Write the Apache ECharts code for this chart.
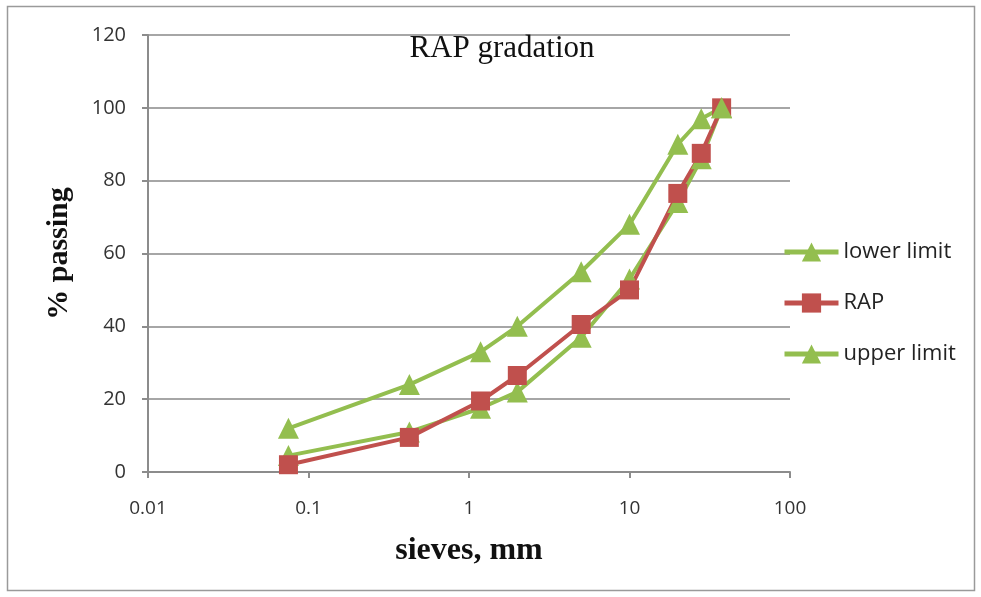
<!DOCTYPE html>
<html>
<head>
<meta charset="utf-8">
<script src="https://cdn.jsdelivr.net/npm/echarts@6/dist/echarts.min.js"></script>
<style>
  html, body { margin: 0; padding: 0; background: #fff; }
  #chart { width: 981px; height: 597px; }
</style>
</head>
<body>
<div id="chart"></div>
<script>
// Sieve sizes (mm) and percent passing for each curve
const sieves = [0.075, 0.425, 1.18, 2, 5, 10, 20, 28, 37.5];
const lowerLimit = [4.5, 11, 17.5, 22, 37, 53, 74, 86, 100];
const rapPassing = [2, 9.5, 19.5, 26.5, 40.5, 50, 76.5, 87.5, 100];
const upperLimit = [12, 24, 33, 40, 55, 68, 90, 97, 100];
const xTicks = ['0.01', '0.1', '1', '10', '100'];
const yTicks = [0, 20, 40, 60, 80, 100, 120];

const GREEN = '#93BE4F';
const RED = '#C0504D';
const AXIS_GRAY = '#8c8c8c';

const pairs = vals => sieves.map((s, i) => [s, vals[i]]);

const chart = echarts.init(document.getElementById('chart'), null, { renderer: 'canvas' });

const lineSeries = (name, vals, color, symbol) => ({
  name,
  type: 'line',
  data: pairs(vals),
  symbol,
  symbolSize: symbol === 'rect' ? 19 : 21,
  lineStyle: { color, width: 4 },
  itemStyle: { color },
  emphasis: { disabled: true },
  animation: false
});

chart.setOption({
  animation: false,
  title: {
    text: 'RAP gradation',
    left: 497,
    top: 28,
    textAlign: 'center',
    textStyle: { fontFamily: 'Liberation Serif', fontSize: 31, fontWeight: 'normal', color: '#111' }
  },
  graphic: [{
    type: 'rect',
    shape: { x: 7.5, y: 6.5, width: 967, height: 584 },
    style: { fill: 'none', stroke: '#9a9a9a', lineWidth: 1.5 },
    silent: true,
    z: -1
  }],
  legend: {
    orient: 'vertical',
    left: 782,
    top: 241,
    padding: 0,
    itemWidth: 54,
    itemHeight: 24,
    itemGap: 29,
    data: ['lower limit', 'RAP', 'upper limit'],
    lineStyle: { width: 5 },
    textStyle: { fontFamily: 'Open Sans', fontSize: 22, color: '#222' }
  },
  grid: { left: 148, right: 191, top: 35, bottom: 125 },
  xAxis: {
    type: 'log',
    logBase: 10,
    min: 0.01,
    max: 100,
    name: 'sieves, mm',
    nameLocation: 'middle',
    nameGap: 63,
    nameTextStyle: { fontFamily: 'Liberation Serif', fontSize: 32, fontWeight: 'bold', color: '#111' },
    axisLine: { lineStyle: { color: AXIS_GRAY, width: 2 } },
    axisTick: { show: true, inside: false, length: 6, lineStyle: { color: AXIS_GRAY, width: 2 } },
    axisLabel: {
      fontFamily: 'Open Sans', fontSize: 19, color: '#333', margin: 27,
      formatter: v => {
        const e = Math.round(Math.log10(v));
        return xTicks[e + 2] !== undefined ? xTicks[e + 2] : '';
      }
    },
    splitLine: { show: false },
    minorTick: { show: false }
  },
  yAxis: {
    type: 'value',
    min: yTicks[0],
    max: yTicks[yTicks.length - 1],
    interval: 20,
    name: '% passing',
    nameLocation: 'middle',
    nameGap: 74,
    nameRotate: 90,
    nameTextStyle: { fontFamily: 'Liberation Serif', fontSize: 30, fontWeight: 'bold', color: '#111' },
    axisLine: { show: true, lineStyle: { color: AXIS_GRAY, width: 2 } },
    axisTick: { show: true, inside: false, length: 6, lineStyle: { color: AXIS_GRAY, width: 2 } },
    axisLabel: { fontFamily: 'Open Sans', fontSize: 20, color: '#333', margin: 22 },
    splitLine: { show: true, lineStyle: { color: '#a6a6a6', width: 2 } }
  },
  series: [
    lineSeries('lower limit', lowerLimit, GREEN, 'triangle'),
    lineSeries('RAP', rapPassing, RED, 'rect'),
    lineSeries('upper limit', upperLimit, GREEN, 'triangle')
  ]
});
</script>
</body>
</html>
